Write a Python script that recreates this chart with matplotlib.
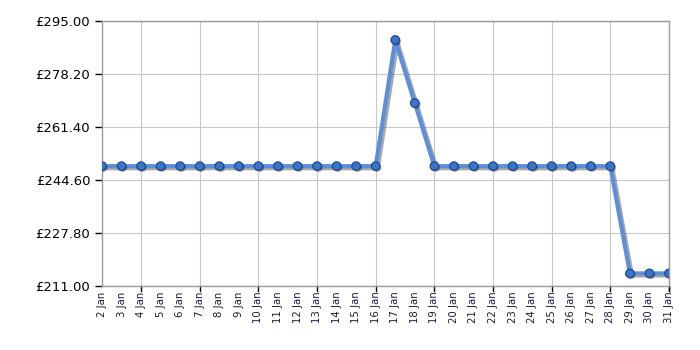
import numpy as np
import matplotlib.pyplot as plt
import matplotlib.patheffects as pe

days = [f'{d} Jan' for d in range(2, 32)]
prices = [248.99] * 15 + [288.99, 268.99] + [248.99] * 10 + [214.99] * 3
y_ticks = [211.00, 227.80, 244.60, 261.40, 278.20, 295.00]

fig = plt.figure(figsize=(7, 3.5), dpi=100)
ax = fig.add_axes([102 / 700, 64 / 350, 567 / 700, 265 / 350])

x = np.arange(len(days))
shadow = [pe.SimpleLineShadow(offset=(1.5, -1.5), shadow_color='#555555', alpha=0.5), pe.Normal()]
ax.plot(x, prices, color='#5b8fdc', lw=3, zorder=3, path_effects=shadow)
ax.plot(x, prices, ls='none', marker='o', ms=6.2, mfc='#3b73c8', mec='#1b4486', mew=0.8, zorder=4,
        path_effects=[pe.SimplePatchShadow(offset=(1, -1), alpha=0.4), pe.Normal()])

ax.set_xlim(0, len(days) - 1)
ax.set_ylim(y_ticks[0], y_ticks[-1])
ax.set_yticks(y_ticks)
ax.set_yticklabels([f'£{v:.2f}' for v in y_ticks], fontsize=9.5)
ax.set_xticks(x)
ax.set_xticklabels(days, rotation=90, fontsize=7.3, color='#1a1a40')
ax.tick_params(axis='x', length=0, pad=4)
ax.tick_params(axis='y', length=5, width=1, color='black')

# vertical grid every 3 days, with ticks
for i in range(2, len(days), 3):
    ax.axvline(i, color='#c8c8c8', lw=0.8, zorder=1)
    ax.plot([i, i], [0, -0.02], transform=ax.get_xaxis_transform(), color='black', lw=1, clip_on=False)
ax.plot([len(days) - 1] * 2, [0, -0.02], transform=ax.get_xaxis_transform(), color='black', lw=1, clip_on=False)
ax.yaxis.grid(True, color='#c8c8c8', lw=0.8)
ax.set_axisbelow(True)

for s in ax.spines.values():
    s.set_color('#999999')
    s.set_linewidth(1)

fig.savefig('out.png', dpi=100)
